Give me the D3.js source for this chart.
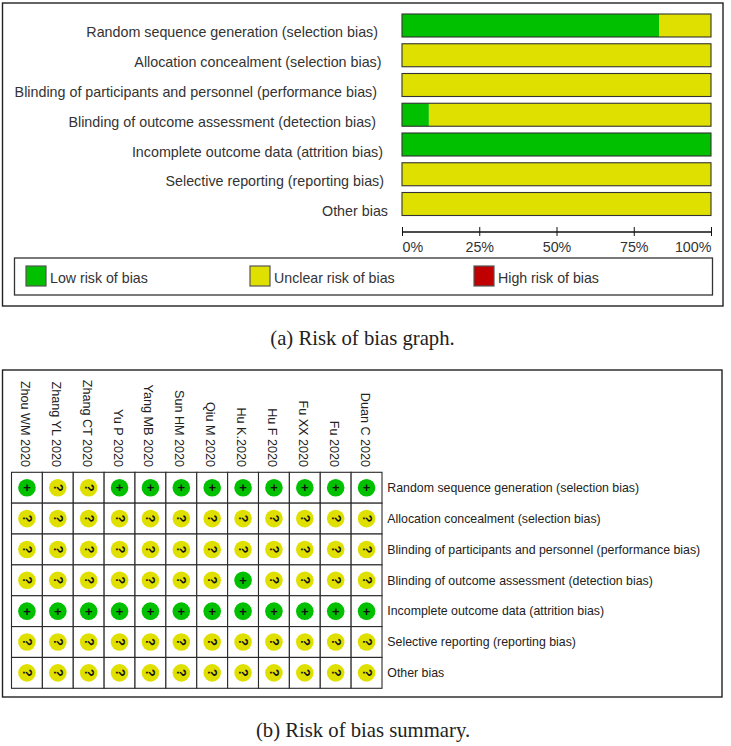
<!DOCTYPE html>
<html><head><meta charset="utf-8">
<script src="https://cdn.jsdelivr.net/npm/d3@7"></script>
<style>html,body{margin:0;padding:0;background:#fff}svg{display:block}</style>
</head><body><svg id="c" width="731" height="746"></svg>
<script>
const domains=["Random sequence generation (selection bias)","Allocation concealment (selection bias)","Blinding of participants and personnel (performance bias)","Blinding of outcome assessment (detection bias)","Incomplete outcome data (attrition bias)","Selective reporting (reporting bias)","Other bias"];
const lowPct=[83.3,0,0,8.7,100,0,0];
const unclearPct=[16.7,100,100,91.3,0,100,100];
const highPct=[0,0,0,0,0,0,0];
const tickValues=[0,25,50,75,100];
const legendLabels=["Low risk of bias","Unclear risk of bias","High risk of bias"];
const captions=["(a) Risk of bias graph.","(b) Risk of bias summary."];
const studies=["Zhou WM 2020","Zhang YL 2020","Zhang CT 2020","Yu P 2020","Yang MB 2020","Sun HM 2020","Qiu M 2020","Hu K.2020","Hu F 2020","Fu XX 2020","Fu 2020","Duan C 2020"];
const judgements=[
"+??+++++++++",
"????????????",
"????????????",
"???????+????",
"++++++++++++",
"????????????",
"????????????"];

const G="#00c000",Y="#e0e000",R="#c00000";
const sans="Liberation Sans, Arial, sans-serif",serif="Liberation Serif, Times New Roman, serif";
const svg=d3.select("#c");
function frame(x,y,w,h,sw,stroke){return svg.append("rect").attr("x",x).attr("y",y).attr("width",w).attr("height",h).attr("fill","none").attr("stroke",stroke||"#222").attr("stroke-width",sw||1.4);}

// (a) graph
frame(2.5,3,720.5,303);
const x=d3.scaleLinear().domain([0,100]).range([402,711]);
const y=d3.scaleBand().domain(domains).range([14,215.5]).paddingInner(0.227).paddingOuter(0);
const labelRight=[378,381.5,377,376,383,384,388];
const bars=svg.append("g");
domains.forEach((d,i)=>{
  const by=y(d),bh=y.bandwidth();
  const low=lowPct[i],unc=low+unclearPct[i],high=unc+highPct[i];
  [[0,low,G],[low,unc,Y],[unc,high,R]].forEach(([a,b,c])=>{
    if(b>a) bars.append("rect").attr("x",x(a)).attr("y",by).attr("width",x(b)-x(a)).attr("height",bh).attr("fill",c);
  });
  bars.append("rect").attr("x",x(0)).attr("y",by).attr("width",x(100)-x(0)).attr("height",bh).attr("fill","none").attr("stroke","#333").attr("stroke-width",1.1);
  bars.append("text").attr("x",labelRight[i]).attr("y",by+bh/2+12).attr("text-anchor","end").attr("font-family",sans).attr("font-size",14.3).attr("fill","#333").text(d);
});
const ax=svg.append("g").attr("transform","translate(0,231.5)").call(d3.axisBottom(x).tickValues(tickValues).tickSize(0).tickFormat(d=>d+"%"));
ax.select(".domain").attr("stroke","#111").attr("stroke-width",1.3);
ax.selectAll(".tick line").attr("y1",-4.5).attr("y2",4.5).attr("stroke","#111").attr("stroke-width",1);
ax.selectAll(".tick text").attr("y",20).attr("dy",0).attr("font-family",sans).attr("font-size",14.3).attr("fill","#333").attr("text-anchor",d=>d===100?"end":d===0?"start":"middle");

// legend
frame(14.5,258,698,37,1.3,"#333");
const legX=d3.scaleOrdinal().domain(legendLabels).range([26,250,474]);
const legC=d3.scaleOrdinal().domain(legendLabels).range([G,Y,R]);
legendLabels.forEach(l=>{
  svg.append("rect").attr("x",legX(l)).attr("y",266).attr("width",20).attr("height",20).attr("fill",legC(l)).attr("stroke","#555").attr("stroke-width",1.2);
  svg.append("text").attr("x",legX(l)+24).attr("y",283).attr("font-family",sans).attr("font-size",14.2).attr("fill","#333").text(l);
});
svg.append("text").attr("x",362.5).attr("y",345).attr("text-anchor","middle").attr("font-family",serif).attr("font-size",20.7).attr("fill","#222").text(captions[0]);

// (b) summary
frame(2.5,370,719.5,327);
const cx=d3.scaleBand().domain(studies).range([11.5,382]);
const cy=d3.scaleBand().domain(domains).range([472.3,688.3]);
studies.forEach(s=>{
  svg.append("text").attr("transform",`translate(${cx(s)+cx.bandwidth()/2-6},467) rotate(90)`).attr("text-anchor","end").attr("font-family",sans).attr("font-size",12.6).attr("fill","#222").text(s);
});
const cells=svg.append("g");
domains.forEach((d,r)=>{
  studies.forEach((s,c)=>{
    const j=judgements[r][c],mx=cx(s)+cx.bandwidth()/2,my=cy(d)+cy.bandwidth()/2;
    cells.append("rect").attr("x",cx(s)).attr("y",cy(d)).attr("width",cx.bandwidth()).attr("height",cy.bandwidth()).attr("fill","#fff").attr("stroke","#2a2a2a").attr("stroke-width",1.1);
    cells.append("circle").attr("cx",mx).attr("cy",my).attr("r",8.8).attr("fill",j==="+"?G:Y);
    const t=cells.append("text").attr("font-family",sans).attr("font-weight","bold").attr("fill","#111").attr("text-anchor","middle").text(j);
    if(j==="+") t.attr("x",mx).attr("y",my+4.4).attr("font-size",13);
    else t.attr("transform",`translate(${mx-4},${my}) rotate(90)`).attr("font-size",12.5);
  });
  svg.append("text").attr("x",387.3).attr("y",cy(d)+cy.bandwidth()/2+4.3).attr("font-family",sans).attr("font-size",12.35).attr("fill","#222").text(d);
});
svg.append("text").attr("x",363).attr("y",737).attr("text-anchor","middle").attr("font-family",serif).attr("font-size",20.7).attr("fill","#222").text(captions[1]);
</script></body></html>
